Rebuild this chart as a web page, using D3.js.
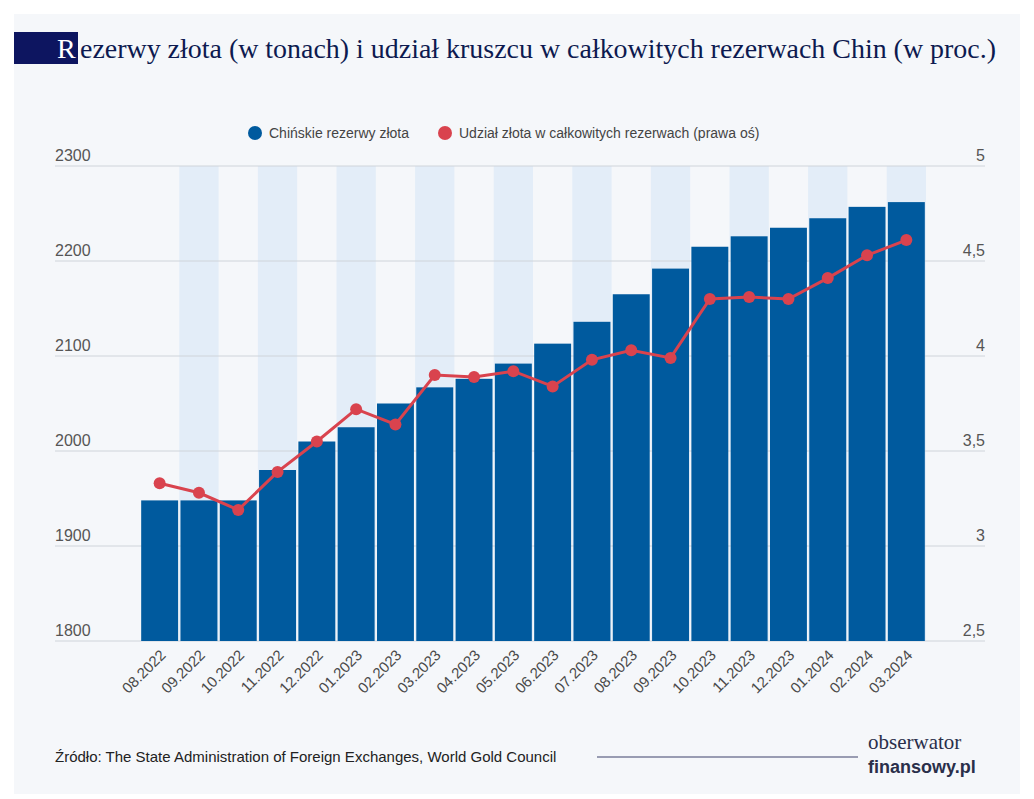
<!DOCTYPE html>
<html><head><meta charset="utf-8">
<script src="https://cdn.jsdelivr.net/npm/d3@7"></script>
<style>body{margin:0;background:#fff}</style>
</head><body>
<svg id="chart"></svg>
<script>
const width = 1034, height = 799;

const months = ["08.2022","09.2022","10.2022","11.2022","12.2022","01.2023","02.2023","03.2023","04.2023","05.2023","06.2023","07.2023","08.2023","09.2023","10.2023","11.2023","12.2023","01.2024","02.2024","03.2024"];
const reserves = [1948,1948,1948,1980,2010,2025,2050,2067,2076,2092,2113,2136,2165,2192,2215,2226,2235,2245,2257,2262];
const share = [3.33,3.28,3.19,3.39,3.55,3.72,3.64,3.90,3.89,3.92,3.84,3.98,4.03,3.99,4.30,4.31,4.30,4.41,4.53,4.61];
const leftTicks = [1800,1900,2000,2100,2200,2300];
const rightTicks = [2.5,3,3.5,4,4.5,5];

const svg = d3.select("#chart").attr("width", width).attr("height", height);
svg.append("rect").attr("x", 14).attr("y", 14).attr("width", 1006).attr("height", 780).attr("fill", "#f5f7fa");

const x = d3.scaleBand().domain(months).range([140, 926]).paddingInner(0.06).paddingOuter(0.03);
const band = d3.scaleBand().domain(months).range([140, 926]);
const yL = d3.scaleLinear().domain([1800, 2300]).range([641, 166]);
const yR = d3.scaleLinear().domain([2.5, 5]).range([641, 166]);

// alternating stripes
svg.append("g").selectAll("rect").data(months.filter((d, i) => i % 2 === 1)).join("rect")
  .attr("x", d => band(d)).attr("width", band.bandwidth())
  .attr("y", 166).attr("height", 475).attr("fill", "#e3edf8");

// grid
svg.append("g").selectAll("line").data(leftTicks).join("line")
  .attr("x1", 55).attr("x2", 985).attr("y1", d => yL(d)).attr("y2", d => yL(d))
  .attr("stroke", "#cfd4da").attr("stroke-width", 1);

svg.append("g").selectAll("text").data(leftTicks).join("text")
  .attr("x", 55).attr("y", d => yL(d) - 5).text(d => d)
  .attr("font-family", "Liberation Sans").attr("font-size", 16).attr("fill", "#555");
svg.append("g").selectAll("text").data(rightTicks).join("text")
  .attr("x", 985).attr("y", d => yR(d) - 5).attr("text-anchor", "end")
  .text(d => String(d).replace(".", ","))
  .attr("font-family", "Liberation Sans").attr("font-size", 16).attr("fill", "#555");

// bars
svg.append("g").selectAll("rect").data(months).join("rect")
  .attr("x", d => x(d)).attr("width", x.bandwidth())
  .attr("y", (d, i) => yL(reserves[i])).attr("height", (d, i) => 641 - yL(reserves[i]))
  .attr("fill", "#005a9e");

// line
const cx = d => band(d) + band.bandwidth() / 2;
svg.append("path").datum(months)
  .attr("d", d3.line().x(cx).y((d, i) => yR(share[i])))
  .attr("fill", "none").attr("stroke", "#d9434e").attr("stroke-width", 3);
svg.append("g").selectAll("circle").data(months).join("circle")
  .attr("cx", cx).attr("cy", (d, i) => yR(share[i])).attr("r", 6).attr("fill", "#d9434e");

// x labels
svg.append("g").selectAll("text").data(months).join("text")
  .attr("transform", d => `translate(${cx(d) + 7},${656}) rotate(-45)`)
  .attr("text-anchor", "end").text(d => d)
  .attr("font-family", "Liberation Sans").attr("font-size", 15).attr("fill", "#4a4a4a");

// legend
const lg = svg.append("g").attr("font-family", "Liberation Sans").attr("font-size", 14).attr("fill", "#444");
lg.append("circle").attr("cx", 255).attr("cy", 133).attr("r", 7).attr("fill", "#005a9e");
lg.append("text").attr("x", 269).attr("y", 138).text("Chińskie rezerwy złota");
lg.append("circle").attr("cx", 445).attr("cy", 133).attr("r", 7).attr("fill", "#d9434e");
lg.append("text").attr("x", 459).attr("y", 138).text("Udział złota w całkowitych rezerwach (prawa oś)");

// title
svg.append("rect").attr("x", 14).attr("y", 32).attr("width", 64).attr("height", 32).attr("fill", "#0d1560");
svg.append("text").attr("x", 57).attr("y", 58).text("R").attr("fill", "#fff")
  .attr("font-family", "Liberation Serif").attr("font-size", 28);
svg.append("text").attr("x", 80).attr("y", 58).text("ezerwy złota (w tonach) i udział kruszcu w całkowitych rezerwach Chin (w proc.)")
  .attr("fill", "#0d1a50").attr("font-family", "Liberation Serif").attr("font-size", 28)
  .attr("textLength", 916).attr("lengthAdjust", "spacingAndGlyphs");

// footer
svg.append("text").attr("x", 55).attr("y", 762).text("Źródło: The State Administration of Foreign Exchanges, World Gold Council")
  .attr("font-family", "Liberation Sans").attr("font-size", 15).attr("fill", "#222");
svg.append("line").attr("x1", 597).attr("x2", 858).attr("y1", 757).attr("y2", 757).attr("stroke", "#7a7e9a").attr("stroke-width", 1.5);
svg.append("text").attr("x", 868).attr("y", 749).text("obserwator")
  .attr("font-family", "Liberation Serif").attr("font-size", 21).attr("fill", "#2a2f4a");
svg.append("text").attr("x", 868).attr("y", 773).text("finansowy.pl").attr("font-weight", "bold")
  .attr("font-family", "Liberation Sans").attr("font-size", 18).attr("fill", "#2a2f4a");
</script>
</body></html>
